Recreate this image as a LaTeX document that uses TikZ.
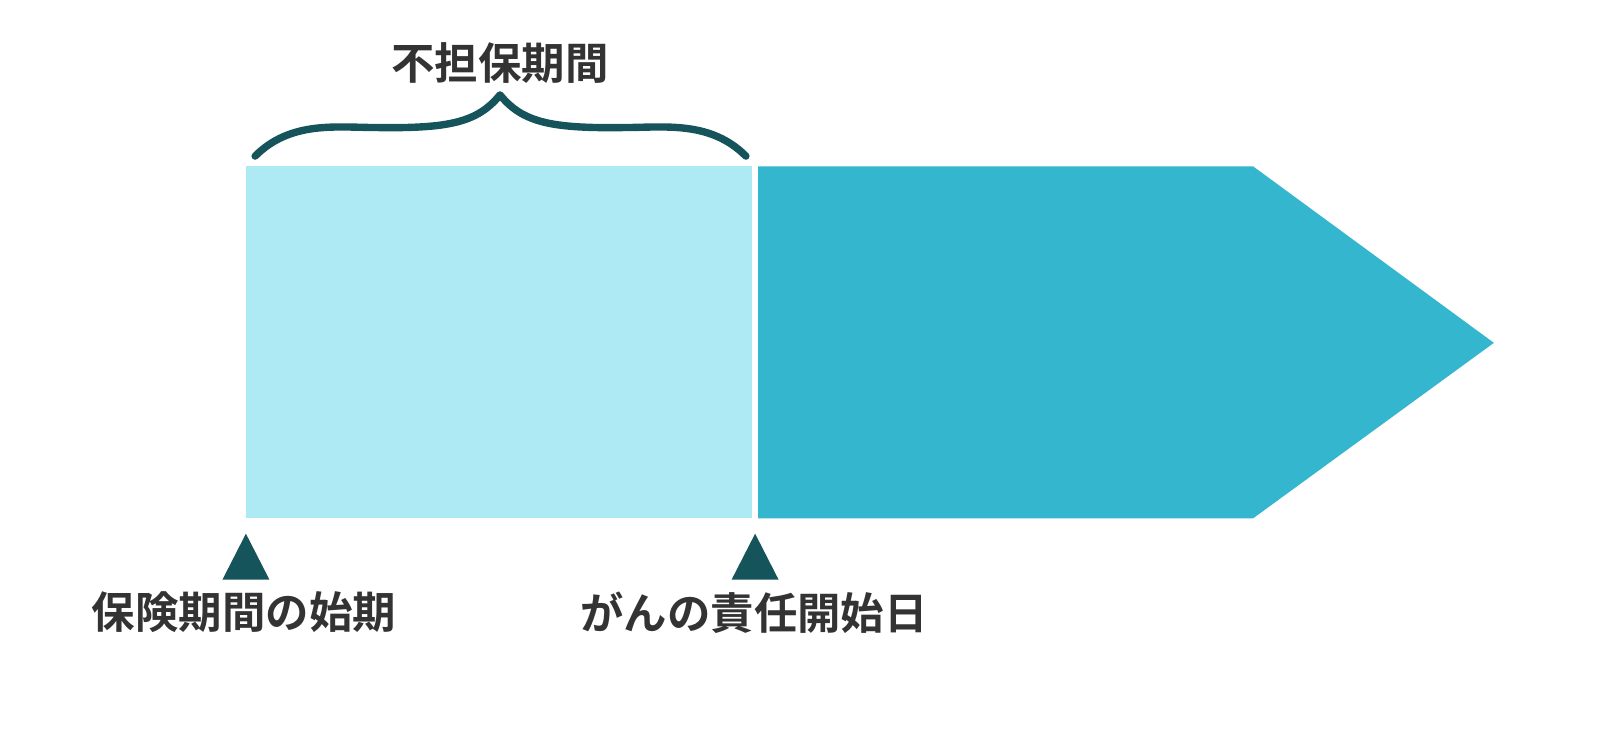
\documentclass[tikz,border=0pt]{standalone}
\usepackage{fontspec}
\newfontfamily\jpfont{Noto Sans CJK JP}[BoldFont={Noto Sans CJK JP Bold}]
\usepackage{tikz}

\definecolor{paleblue}{HTML}{AEEAF4}
\definecolor{midblue}{HTML}{35B6CF}
\definecolor{deepteal}{HTML}{16545C}
\definecolor{inkgray}{HTML}{333333}

\tikzset{
  lbl/.style={font=\jpfont\bfseries\fontsize{24.7}{28}\selectfont, text=inkgray, inner sep=0pt},
  marker/.style={fill=deepteal, draw=none},
}

\begin{document}
\begin{tikzpicture}[x=0.020408cm, y=-0.020408cm]
  \useasboundingbox (0, 0) rectangle (1568, 735);

  % periode
    \fill[paleblue] (241, 163) rectangle (737, 508);
    \fill[midblue] (743, 163) -- (1228, 163) -- (1464, 336) -- (1228, 508) -- (743, 508) -- cycle;

  % accolade
    \draw[deepteal, line width=4.2pt, line cap=round, line join=round]
      (250, 153) .. controls (285, 118) and (330, 125) .. (370, 125)
      .. controls (440, 126) and (468, 120) .. (490, 93)
      .. controls (512, 120) and (540, 126) .. (611, 125)
      .. controls (651, 125) and (696, 118) .. (731, 153);
    \node[lbl] at (490, 62) (nofuho) {不担保期間};

  % reperes
    \fill[marker] (241, 523) -- (264, 568) -- (218, 568) -- cycle;
    \fill[marker] (740, 523) -- (763, 568) -- (717, 568) -- cycle;
    \node[lbl] at (239, 600) (shiki) {保険期間の始期};
    \node[lbl] at (739, 600) (sekinin) {がんの責任開始日};
\end{tikzpicture}
\end{document}
